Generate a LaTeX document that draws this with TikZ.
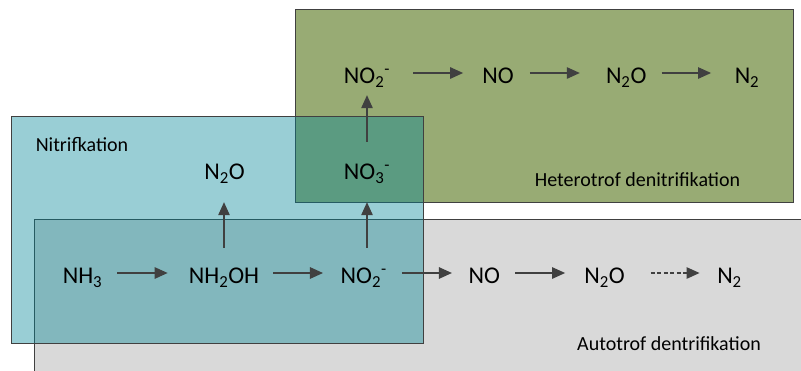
\documentclass[tikz,border=0pt]{standalone}
\usepackage{fontspec}
\setmainfont{Carlito}
\usetikzlibrary{arrows.meta}
\definecolor{frame}{HTML}{404040}
\definecolor{ink}{HTML}{404040}
\definecolor{hetero}{RGB}{152,171,116}
\definecolor{autozone}{RGB}{217,217,217}
\definecolor{nitri}{RGB}{0,133,149}
\begin{document}
\begin{tikzpicture}[x=1pt,y=-1pt,
  zone/.style={draw=frame,line width=0.9pt},
  chem/.style={anchor=base,inner sep=0pt,text height=21pt,text depth=0pt,
    font=\fontsize{24}{28}\selectfont},
  caption/.style={anchor=base,inner sep=0pt,font=\fontsize{20}{24}\selectfont},
  arr/.style={draw=ink,line width=1.2pt,-{Triangle[length=13pt,width=11.5pt]}},
  dasharr/.style={arr,dash pattern=on 4pt off 2.5pt},
]
\useasboundingbox (0,0) rectangle (801,370);
\clip (0,0) rectangle (801,370);

% process zones
\path[zone,fill=autozone] (34.5,219) rectangle (803,372);
\path[zone,fill=hetero] (295,9) rectangle (793.5,202);
\path[zone,fill=nitri,fill opacity=0.4] (11,116) rectangle (423.3,343.3);

% lower chain
\node[chem] (nh3)   at (82.5,283.5)  {NH\textsubscript{3}};
\node[chem] (nh2oh) at (224,283.5)   {NH\textsubscript{2}OH};
\node[chem] (no2b)  at (363.7,283.5) {NO\textsubscript{2}\textsuperscript{-}};
\node[chem] (nob)   at (484.3,283.5) {NO};
\node[chem] (n2ob)  at (604.5,283.5) {N\textsubscript{2}O};
\node[chem] (n2b)   at (729.5,283.5) {N\textsubscript{2}};

% middle row
\node[chem] (n2oa)  at (224.5,179.5) {N\textsubscript{2}O};
\node[chem] (no3)   at (367,179.5)   {NO\textsubscript{3}\textsuperscript{-}};

% upper chain
\node[chem] (no2t)  at (367,83.5)    {NO\textsubscript{2}\textsuperscript{-}};
\node[chem] (not)   at (498,83.5)    {NO};
\node[chem] (n2ot)  at (626.2,83.5)  {N\textsubscript{2}O};
\node[chem] (n2t)   at (747,83.5)    {N\textsubscript{2}};

% zone captions
\node[caption] (nitlbl) at (82,151)      {Nitrifkation};
\node[caption] (hetlbl) at (637.5,186.7) {Heterotrof denitrifikation};
\node[caption] (autlbl) at (669,350)     {Autotrof dentrifikation};

% lower chain arrows
\draw[arr,shorten <=15pt,shorten >=21pt]   (nh3) -- (nh2oh);
\draw[arr,shorten <=14pt,shorten >=17.5pt] (nh2oh) -- (no2b);
\draw[arr,shorten <=15pt,shorten >=16.5pt] (no2b) -- (nob);
\draw[arr,shorten <=15pt,shorten >=19pt]   (nob) -- (n2ob);
\draw[dasharr,shorten <=26pt,shorten >=17.5pt] (n2ob) -- (n2b);

% upper chain arrows
\draw[arr,shorten <=23pt,shorten >=19pt]   (no2t) -- (not);
\draw[arr,shorten <=16pt,shorten >=26pt]   (not) -- (n2ot);
\draw[arr,shorten <=15pt,shorten >=23.5pt] (n2ot) -- (n2t);

% vertical arrows
\draw[arr,shorten <=14.5pt,shorten >=22.5pt] (nh2oh.north) -- (nh2oh.north |- n2oa.south);
\draw[arr,shorten <=14.5pt,shorten >=22.5pt] (no2b.north -| no3.south) -- (no3.south);
\draw[arr,shorten <=16.5pt,shorten >=11.5pt] (no3.north) -- (no3.north |- no2t.south);
\end{tikzpicture}
\end{document}
